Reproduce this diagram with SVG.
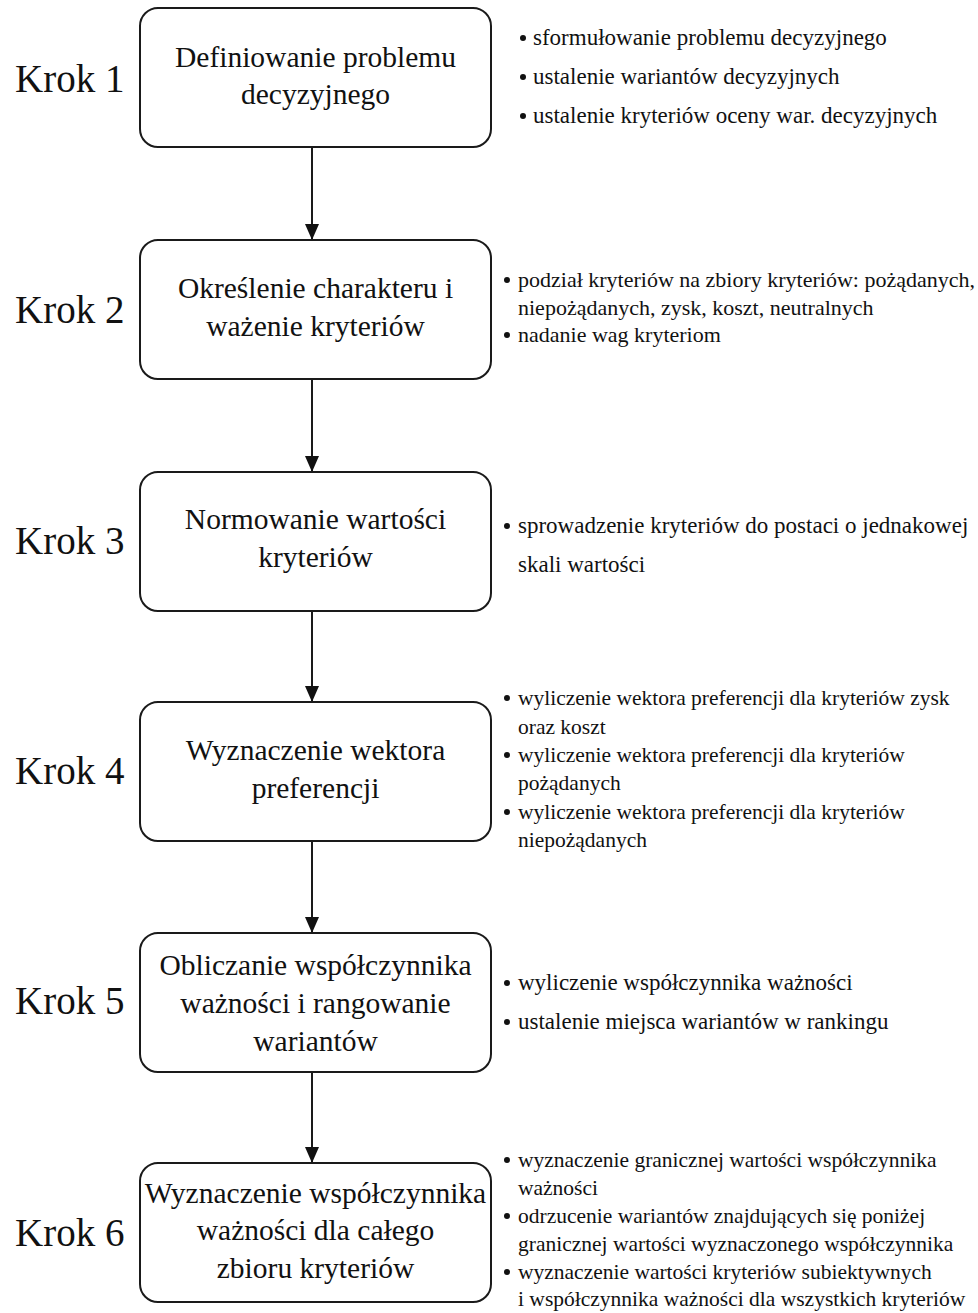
<svg xmlns="http://www.w3.org/2000/svg" width="978" height="1313" viewBox="0 0 978 1313">
  <style>
    .box { fill: #ffffff; stroke: #1a1a1a; stroke-width: 2; }
    .title { font-family: "Liberation Serif", "Times New Roman", serif; font-size: 29.5px; fill: #111; text-anchor: middle; }
    .step { font-family: "Liberation Serif", "Times New Roman", serif; font-size: 39px; fill: #111; }
    .note { font-family: "Liberation Serif", "Times New Roman", serif; font-size: 23px; fill: #111; }
    .note-s { font-family: "Liberation Serif", "Times New Roman", serif; font-size: 21.5px; fill: #111; }
    .note-m { font-family: "Liberation Serif", "Times New Roman", serif; font-size: 22px; fill: #111; }
    .link { stroke: #1a1a1a; stroke-width: 2; fill: none; marker-end: url(#arrow); }
    .dot { fill: #111; }
  </style>
  <defs>
    <marker id="arrow" viewBox="0 0 16 14" refX="16" refY="7" markerWidth="16" markerHeight="14" markerUnits="userSpaceOnUse" orient="auto">
      <path d="M0,0 L16,7 L0,14 Z" fill="#111"/>
    </marker>
  </defs>
  <rect width="978" height="1313" fill="#ffffff"/>

  <!-- connectors between the steps -->
  <g id="connectors">
    <line class="link" x1="312" y1="148" x2="312" y2="240"/>
    <line class="link" x1="312" y1="380" x2="312" y2="472"/>
    <line class="link" x1="312" y1="611" x2="312" y2="702"/>
    <line class="link" x1="312" y1="841" x2="312" y2="933"/>
    <line class="link" x1="312" y1="1072" x2="312" y2="1163"/>
  </g>

  <!-- step 1 -->
  <g id="step1">
    <text class="step" x="15" y="92">Krok 1</text>
    <rect class="box" x="140" y="8" width="351" height="139" rx="18"/>
    <text class="title" x="315.5" y="67">Definiowanie problemu</text>
    <text class="title" x="315.5" y="104">decyzyjnego</text>
    <circle class="dot" cx="523" cy="38" r="3"/>
    <text class="note" x="533" y="45">sformułowanie problemu decyzyjnego</text>
    <circle class="dot" cx="523" cy="77" r="3"/>
    <text class="note" x="533" y="84">ustalenie wariantów decyzyjnych</text>
    <circle class="dot" cx="523" cy="116" r="3"/>
    <text class="note" x="533" y="123">ustalenie kryteriów oceny war. decyzyjnych</text>
  </g>

  <!-- step 2 -->
  <g id="step2">
    <text class="step" x="15" y="323">Krok 2</text>
    <rect class="box" x="140" y="240" width="351" height="139" rx="18"/>
    <text class="title" x="315.5" y="298">Określenie charakteru i</text>
    <text class="title" x="315.5" y="336">ważenie kryteriów</text>
    <circle class="dot" cx="507" cy="280" r="3"/>
    <text class="note-m" x="518" y="287">podział kryteriów na zbiory kryteriów: pożądanych,</text>
    <text class="note-m" x="518" y="315">niepożądanych, zysk, koszt, neutralnych</text>
    <circle class="dot" cx="507" cy="335" r="3"/>
    <text class="note-m" x="518" y="342">nadanie wag kryteriom</text>
  </g>

  <!-- step 3 -->
  <g id="step3">
    <text class="step" x="15" y="554">Krok 3</text>
    <rect class="box" x="140" y="472" width="351" height="139" rx="18"/>
    <text class="title" x="315.5" y="529">Normowanie wartości</text>
    <text class="title" x="315.5" y="567">kryteriów</text>
    <circle class="dot" cx="507" cy="526" r="3"/>
    <text class="note" x="518" y="533">sprowadzenie kryteriów do postaci o jednakowej</text>
    <text class="note" x="518" y="572">skali wartości</text>
  </g>

  <!-- step 4 -->
  <g id="step4">
    <text class="step" x="15" y="784">Krok 4</text>
    <rect class="box" x="140" y="702" width="351" height="139" rx="18"/>
    <text class="title" x="315.5" y="760">Wyznaczenie wektora</text>
    <text class="title" x="315.5" y="798">preferencji</text>
    <circle class="dot" cx="507" cy="698" r="3"/>
    <text class="note-s" x="518" y="705">wyliczenie wektora preferencji dla kryteriów zysk</text>
    <text class="note-s" x="518" y="734">oraz koszt</text>
    <circle class="dot" cx="507" cy="755" r="3"/>
    <text class="note-s" x="518" y="762">wyliczenie wektora preferencji dla kryteriów</text>
    <text class="note-s" x="518" y="790">pożądanych</text>
    <circle class="dot" cx="507" cy="812" r="3"/>
    <text class="note-s" x="518" y="819">wyliczenie wektora preferencji dla kryteriów</text>
    <text class="note-s" x="518" y="847">niepożądanych</text>
  </g>

  <!-- step 5 -->
  <g id="step5">
    <text class="step" x="15" y="1014">Krok 5</text>
    <rect class="box" x="140" y="933" width="351" height="139" rx="18"/>
    <text class="title" x="315.5" y="975">Obliczanie współczynnika</text>
    <text class="title" x="315.5" y="1013">ważności i rangowanie</text>
    <text class="title" x="315.5" y="1051">wariantów</text>
    <circle class="dot" cx="507" cy="983" r="3"/>
    <text class="note" x="518" y="990">wyliczenie współczynnika ważności</text>
    <circle class="dot" cx="507" cy="1022" r="3"/>
    <text class="note" x="518" y="1029">ustalenie miejsca wariantów w rankingu</text>
  </g>

  <!-- step 6 -->
  <g id="step6">
    <text class="step" x="15" y="1246">Krok 6</text>
    <rect class="box" x="140" y="1163" width="351" height="139" rx="18"/>
    <text class="title" x="315.5" y="1203">Wyznaczenie współczynnika</text>
    <text class="title" x="315.5" y="1240">ważności dla całego</text>
    <text class="title" x="315.5" y="1278">zbioru kryteriów</text>
    <circle class="dot" cx="507" cy="1160" r="3"/>
    <text class="note-s" x="518" y="1167">wyznaczenie granicznej wartości współczynnika</text>
    <text class="note-s" x="518" y="1195">ważności</text>
    <circle class="dot" cx="507" cy="1216" r="3"/>
    <text class="note-s" x="518" y="1223">odrzucenie wariantów znajdujących się poniżej</text>
    <text class="note-s" x="518" y="1251">granicznej wartości wyznaczonego współczynnika</text>
    <circle class="dot" cx="507" cy="1272" r="3"/>
    <text class="note-s" x="518" y="1279">wyznaczenie wartości kryteriów subiektywnych</text>
    <text class="note-s" x="518" y="1306">i współczynnika ważności dla wszystkich kryteriów</text>
  </g>
</svg>
